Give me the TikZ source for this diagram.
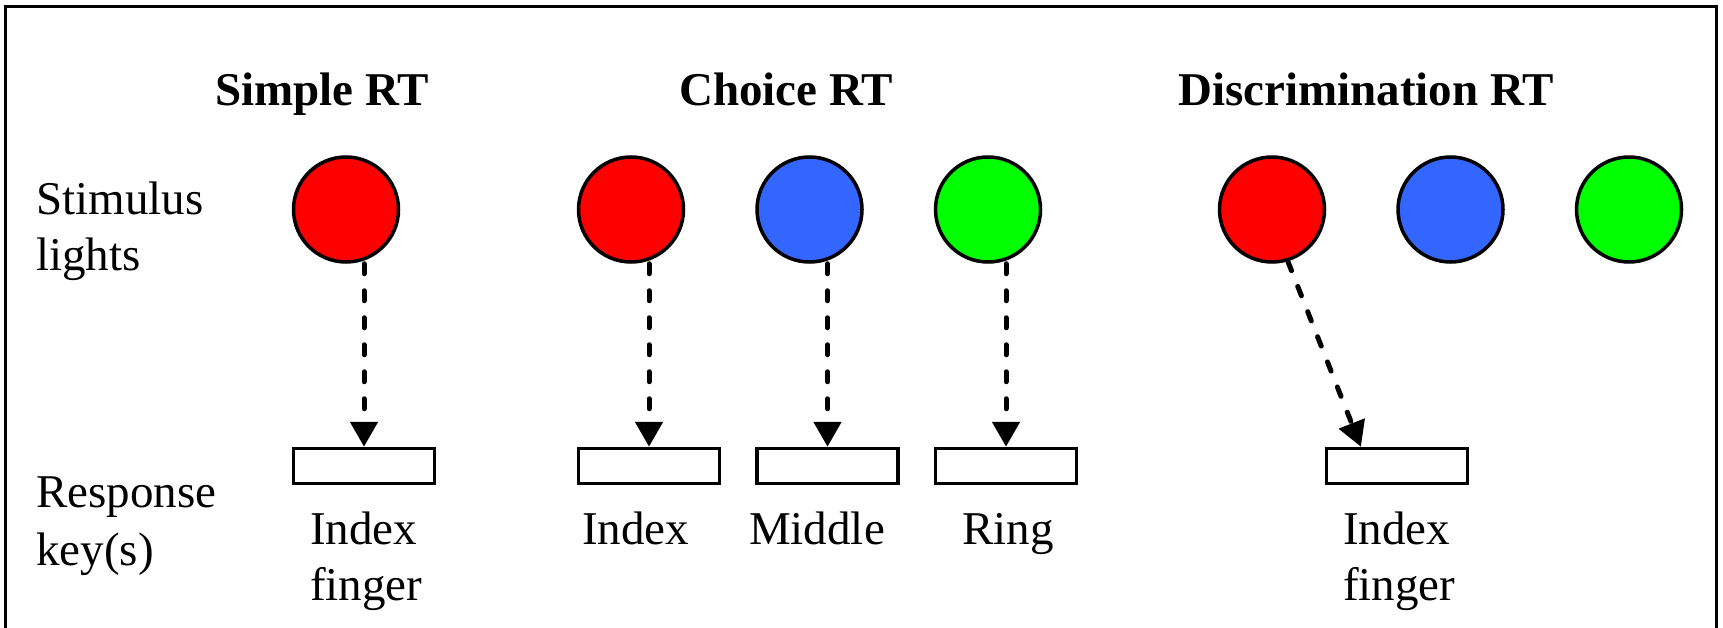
\documentclass[tikz,border=0pt]{standalone}
\usepackage{fontspec}
\setmainfont{Liberation Serif}
\usetikzlibrary{arrows.meta, calc, positioning}

\definecolor{lampred}{HTML}{FF0000}
\definecolor{lampblue}{HTML}{3366FF}
\definecolor{lampgreen}{HTML}{00FF00}

\tikzset{
  txt/.style={font=\fontsize{47}{56}\selectfont, inner sep=0pt, align=left},
  heading/.style={font=\fontsize{47}{56}\selectfont\bfseries, inner sep=0pt},
  lamp/.style={draw, circle, line width=3.5pt, minimum size=105pt, inner sep=0pt},
  keybox/.style={draw, rectangle, line width=3.5pt, minimum width=141pt, minimum height=35pt, inner sep=0pt},
  cue/.style={line width=5pt, line cap=round, dash pattern=on 10pt off 17pt, -{Triangle[width=27pt,length=25pt]}},
}

\begin{document}
\begin{tikzpicture}[x=1pt, y=-1pt]
        \useasboundingbox (0,0) rectangle (1723,628);
        \draw[line width=3pt] (5.5,628) -- (5.5,7) -- (1716,7) -- (1716,628);

        \node[heading, anchor=base] (tsimple) at (322,106) {Simple RT};
        \node[heading, anchor=base] (tchoice) at (786,106) {Choice RT};
        \node[heading, anchor=base] (tdiscr) at (1366,106) {Discrimination RT};
        \node[txt, anchor=base west] (lstim) at (36,271) {Stimulus\\lights};
        \node[txt, anchor=base west] (lresp) at (36,565) {Response\\[2pt]key(s)};

        % simple
        \node[lamp, fill=lampred] (sr) at (346,209.5) {};
        \node[keybox] (sk) at (364,466) {};
        \node[txt, anchor=base west] (lsk) at (310,600) {Index\\finger};
        \draw[cue] (sk.north |- sr.south) -- (sk.north);

        % choice
        \node[lamp, fill=lampred] (cr) at (631,209.5) {};
        \node[lamp, fill=lampblue, right=70pt of cr] (cb) {};
        \node[lamp, fill=lampgreen, right=70pt of cb] (cg) {};
        \node[keybox] (ck) at (649,466) {};
        \node[keybox, right=34pt of ck] (cm) {};
        \node[keybox, right=34pt of cm] (cn) {};
        \node[txt, anchor=base] (lck) at (635.5,544) {Index};
        \node[txt, anchor=base] (lcm) at (817,544) {Middle};
        \node[txt, anchor=base] (lcn) at (1008,544) {Ring};
        \draw[cue] (ck.north |- cr.south) -- (ck.north);
        \draw[cue] (cm.north |- cb.south) -- (cm.north);
        \draw[cue] (cn.north |- cg.south) -- (cn.north);

        % discrimination
        \node[lamp, fill=lampred] (dr) at (1272,209.5) {};
        \node[lamp, fill=lampblue, right=70pt of dr] (db) {};
        \node[lamp, fill=lampgreen, right=70pt of db] (dg) {};
        \node[keybox] (dk) at (1397,466) {};
        \node[txt, anchor=base west] (ldk) at (1343,600) {Index\\finger};
        \draw[cue] (dr.-73) -- ($(dk.north west)!0.25!(dk.north east)$);
\end{tikzpicture}
\end{document}
